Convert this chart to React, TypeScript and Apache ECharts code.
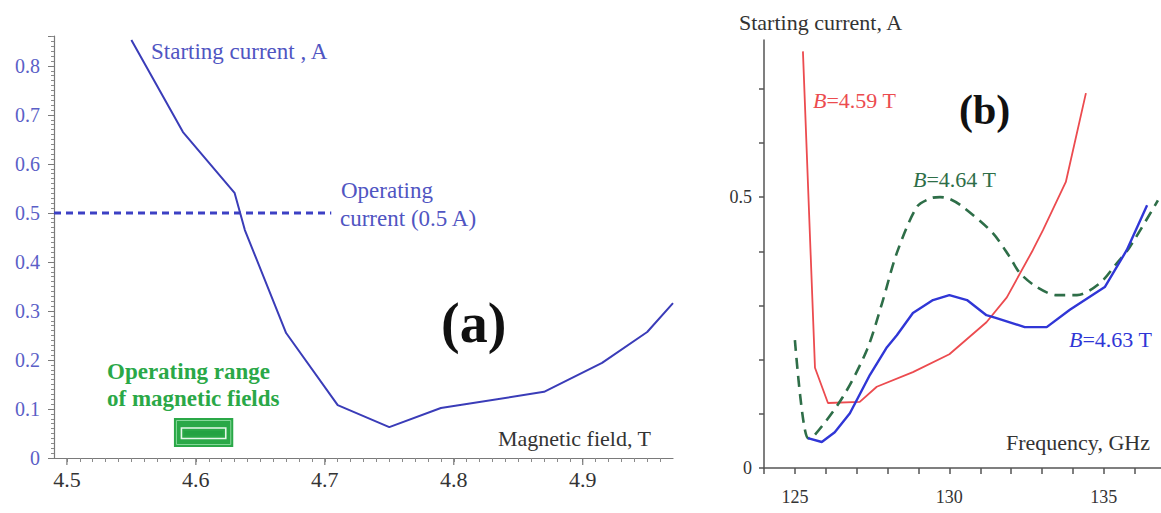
import React, { useEffect, useRef } from "react";
import * as echarts from "echarts";

// Panel (a): starting current vs magnetic field
const fieldT = [4.55, 4.59, 4.63, 4.638, 4.67, 4.71, 4.75, 4.79, 4.87, 4.915, 4.95, 4.97];
const startCurrentA = [0.853, 0.665, 0.541, 0.465, 0.255, 0.108, 0.063, 0.102, 0.135, 0.194, 0.257, 0.316];
const operatingLineX = [4.49, 4.705];
const operatingLineY = [0.5, 0.5];
const operatingRangeX = [4.583, 4.629];
const operatingRangeY = [0.0224, 0.0816];
const aXTicks = [4.5, 4.6, 4.7, 4.8, 4.9];
const aYTicks = [0, 0.1, 0.2, 0.3, 0.4, 0.5, 0.6, 0.7, 0.8];

// Panel (b): starting current vs frequency
const redFreq = [125.26, 125.65, 126.07, 127.1, 127.65, 128.82, 130.0, 131.2, 131.86, 132.7, 133.03, 133.77, 134.42];
const redCur = [0.769, 0.185, 0.12, 0.122, 0.15, 0.177, 0.21, 0.269, 0.315, 0.402, 0.439, 0.528, 0.692];
const greenFreq = [125.0, 125.42, 125.58, 126.55, 127.33, 127.82, 128.3, 128.95, 129.4, 129.7, 130.0, 130.44, 131.4, 131.96, 132.28, 132.83, 133.48, 134.13, 134.87, 135.42, 135.84, 136.75];
const greenCur = [0.236, 0.055, 0.057, 0.131, 0.218, 0.304, 0.397, 0.482, 0.498, 0.5, 0.497, 0.482, 0.434, 0.389, 0.36, 0.334, 0.319, 0.319, 0.341, 0.378, 0.408, 0.494];
const blueFreq = [125.42, 125.87, 126.29, 126.78, 127.43, 127.98, 128.3, 128.82, 129.47, 130.0, 130.57, 131.2, 131.5, 132.44, 133.15, 133.9, 135.03, 135.74, 136.4];
const blueCur = [0.055, 0.048, 0.066, 0.101, 0.172, 0.223, 0.245, 0.286, 0.31, 0.319, 0.31, 0.282, 0.277, 0.26, 0.26, 0.292, 0.334, 0.402, 0.485];
const bXTicks = [125, 130, 135];
const bYTicks = [0, 0.5];

const SERIF = "'Liberation Serif', 'DejaVu Serif', serif";

const zip = (xs: number[], ys: number[]) => xs.map((x, i) => [x, ys[i]]);
const near = (v: number, list: number[]) => list.some((t) => Math.abs(t - v) < 1e-6);

export default function App() {
  const ref = useRef<HTMLDivElement>(null);
  useEffect(() => {
    if (!ref.current) return;
    const chart = echarts.init(ref.current, null, { renderer: "svg" });
    const axisLineA = { show: true, lineStyle: { color: "#7a7a7a", width: 1.2 } };
    const axisLineB = { show: true, lineStyle: { color: "#555", width: 1.5 } };
    const txt = (text: string, x: number, y: number, size: number, fill: string, bold = false, rich?: any) => ({
      type: "text",
      x,
      y,
      style: {
        text,
        fill,
        font: `${bold ? "bold " : ""}${size}px ${SERIF}`,
        textAlign: "left",
        textVerticalAlign: "middle",
        rich,
      },
    });
    const richB = (color: string) => ({
      i: { fontStyle: "italic", fontFamily: SERIF, fontSize: 22, color },
      n: { fontFamily: SERIF, fontSize: 22, color },
    });
    chart.setOption({
      animation: false,
      backgroundColor: "#ffffff",
      grid: [
        { left: 54, top: 36, width: 619, height: 422 },
        { left: 764, top: 40, width: 397, height: 428 },
      ],
      xAxis: [
        {
          gridIndex: 0,
          type: "value",
          min: 4.49,
          max: 4.97,
          interval: 0.01,
          axisLine: axisLineA,
          axisTick: { show: true, length: 4, lineStyle: { color: "#8a8a8a" } },
          splitLine: { show: false },
          axisLabel: {
            showMinLabel: false,
            showMaxLabel: false,
            margin: 10,
            color: "#333",
            fontFamily: SERIF,
            fontSize: 22,
            formatter: (v: number) => (near(v, aXTicks) ? v.toFixed(1) : ""),
          },
        },
        {
          gridIndex: 1,
          type: "value",
          min: 124,
          max: 136.85,
          interval: 1,
          axisLine: axisLineB,
          axisTick: { show: true, length: 6, lineStyle: { color: "#555", width: 1.5 } },
          splitLine: { show: false },
          axisLabel: {
            showMaxLabel: false,
            margin: 20,
            color: "#333",
            fontFamily: SERIF,
            fontSize: 18,
            formatter: (v: number) => (near(v, bXTicks) ? String(v) : ""),
          },
        },
      ],
      yAxis: [
        {
          gridIndex: 0,
          type: "value",
          min: 0,
          max: 0.861,
          interval: 0.1,
          axisLine: axisLineA,
          axisTick: { show: true, length: 6, lineStyle: { color: "#7a7a7a" } },
          minorTick: { show: true, splitNumber: 10, length: 3, lineStyle: { color: "#8a8a8a" } },
          splitLine: { show: false },
          axisLabel: {
            showMaxLabel: false,
            margin: 14,
            color: "#5b5fc7",
            fontFamily: SERIF,
            fontSize: 20,
            formatter: (v: number) => (near(v, aYTicks) ? (v === 0 ? "0" : v.toFixed(1)) : ""),
          },
        },
        {
          gridIndex: 1,
          type: "value",
          min: 0,
          max: 0.79,
          interval: 0.1,
          axisLine: axisLineB,
          axisTick: { show: true, length: 5, lineStyle: { color: "#555", width: 1.5 } },
          splitLine: { show: false },
          axisLabel: {
            showMaxLabel: false,
            margin: 12,
            color: "#333",
            fontFamily: SERIF,
            fontSize: 18,
            formatter: (v: number) => (near(v, bYTicks) ? (v === 0 ? "0" : v.toFixed(1)) : ""),
          },
        },
      ],
      series: [
        {
          type: "custom",
          xAxisIndex: 0,
          yAxisIndex: 0,
          clip: false,
          silent: true,
          data: aXTicks.map((v) => [v]),
          renderItem: (params: any, api: any) => {
            const p = api.coord([api.value(0), 0]);
            return {
              type: "line",
              shape: { x1: p[0], y1: p[1], x2: p[0], y2: p[1] + 7 },
              style: { stroke: "#7a7a7a", lineWidth: 1.2 },
            };
          },
        },
        {
          type: "line",
          xAxisIndex: 0,
          yAxisIndex: 0,
          data: zip(operatingLineX, operatingLineY),
          symbol: "none",
          lineStyle: { color: "#3c40c4", width: 3, type: [7, 5] },
        },
        {
          type: "line",
          xAxisIndex: 0,
          yAxisIndex: 0,
          data: zip(fieldT, startCurrentA),
          symbol: "none",
          lineStyle: { color: "#3a3cb8", width: 2 },
        },
        {
          type: "custom",
          xAxisIndex: 0,
          yAxisIndex: 0,
          data: [[operatingRangeX[0], operatingRangeX[1], operatingRangeY[0], operatingRangeY[1]]],
          renderItem: (params: any, api: any) => {
            const p1 = api.coord([api.value(0), api.value(3)]);
            const p2 = api.coord([api.value(1), api.value(2)]);
            const x = p1[0], y = p1[1], w = p2[0] - p1[0], h = p2[1] - p1[1];
            return {
              type: "group",
              children: [
                { type: "rect", shape: { x, y, width: w, height: h }, style: { fill: "#2aa847" } },
                { type: "rect", shape: { x: x + 2.5, y: y + 2.5, width: w - 5, height: h - 5 }, style: { fill: "none", stroke: "#86d89a", lineWidth: 1 } },
                { type: "rect", shape: { x: x + 7.5, y: y + 10, width: w - 15, height: h - 18.5 }, style: { fill: "none", stroke: "#e6f7ea", lineWidth: 1.6 } },
                { type: "rect", shape: { x: x + 10.5, y: y + 13, width: w - 21, height: h - 24.5 }, style: { fill: "#23a242" } },
              ],
            };
          },
        },
        {
          type: "line",
          xAxisIndex: 1,
          yAxisIndex: 1,
          data: zip(redFreq, redCur),
          symbol: "none",
          lineStyle: { color: "#ec4b4f", width: 1.8 },
        },
        {
          type: "line",
          xAxisIndex: 1,
          yAxisIndex: 1,
          data: zip(greenFreq, greenCur),
          symbol: "none",
          smooth: 0.3,
          lineStyle: { color: "#2e6e48", width: 2.6, type: [11, 7] },
        },
        {
          type: "line",
          xAxisIndex: 1,
          yAxisIndex: 1,
          data: zip(blueFreq, blueCur),
          symbol: "none",
          lineStyle: { color: "#3036d6", width: 2.4 },
        },
      ],
      graphic: [
        txt("Starting current , A", 151, 51, 23, "#5055c2"),
        txt("Operating", 341, 190, 23, "#5055c2"),
        txt("current (0.5 A)", 340, 218, 23, "#5055c2"),
        txt("(a)", 441, 323, 56, "#111", true),
        txt("Magnetic field, T", 498, 438, 22, "#333"),
        txt("Operating range", 107, 371, 23, "#2aa847", true),
        txt("of magnetic fields", 107, 398, 23, "#2aa847", true),
        txt("Starting current, A", 739, 22, 22, "#333"),
        txt("(b)", 959, 110, 42, "#111", true),
        txt("{i|B}{n|=4.59 T}", 813, 100, 22, "#ec4b4f", false, richB("#ec4b4f")),
        txt("{i|B}{n|=4.64 T}", 913, 179, 22, "#2e6e48", false, richB("#2e6e48")),
        txt("{i|B}{n|=4.63 T}", 1069, 339, 22, "#3036d6", false, richB("#3036d6")),
        txt("Frequency, GHz", 1006, 442, 22, "#333"),
      ],
    });
    return () => chart.dispose();
  }, []);
  return <div ref={ref} style={{ position: "absolute", left: 0, top: 0, width: 1161, height: 513 }} />;
}
